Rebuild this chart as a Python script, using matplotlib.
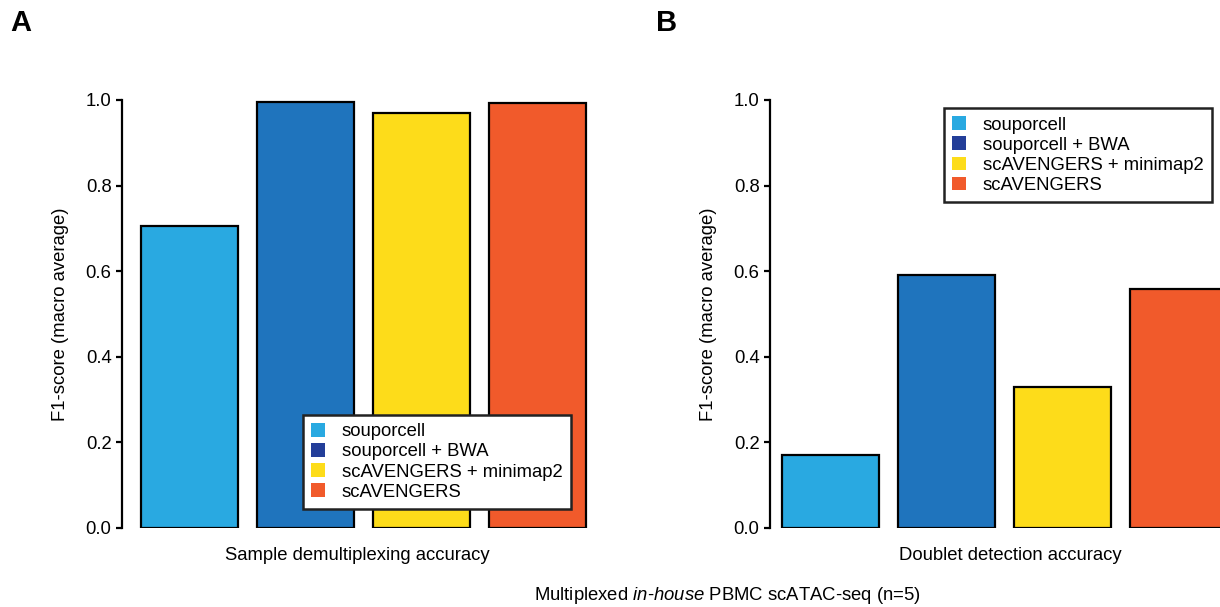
import matplotlib
matplotlib.use("Agg")
import matplotlib.pyplot as plt
from matplotlib.patches import Patch

plt.rcParams['font.family'] = ['Liberation Sans', 'DejaVu Sans']
plt.rcParams['mathtext.fontset'] = 'custom'
plt.rcParams['mathtext.it'] = 'Liberation Sans:italic'
plt.rcParams['mathtext.rm'] = 'Liberation Sans'

# data
methods = ['souporcell', 'souporcell + BWA', 'scAVENGERS + minimap2', 'scAVENGERS']
demux_f1 = [0.705, 0.995, 0.970, 0.993]
doublet_f1 = [0.171, 0.591, 0.329, 0.558]
bar_colors = ['#29A9E1', '#1F74BD', '#FDDC1A', '#F15A2B']
legend_colors = ['#29A9E1', '#233E99', '#FDDC1A', '#F15A2B']
yticks = [0.0, 0.2, 0.4, 0.6, 0.8, 1.0]

W, H = 1220, 607
FS = 13.3
fig = plt.figure(figsize=(W/100, H/100), dpi=100)

def px_axes(x0, x1, y_top, y_bot):
    return fig.add_axes([x0/W, (H-y_bot)/H, (x1-x0)/W, (y_bot-y_top)/H])

step = 116.0

def draw_panel(ax, vals, x0px, x1px, gap):
    pos = range(len(vals))
    left = -0.418 - gap/step
    ax.bar(pos, vals, width=97/step, color=bar_colors, edgecolor='black', linewidth=1.6)
    ax.set_xlim(left, left + (x1px - x0px)/step)
    ax.set_ylim(0, 1)
    for s in ['top', 'right', 'bottom']:
        ax.spines[s].set_visible(False)
    ax.spines['left'].set_linewidth(1.6)
    ax.set_xticks([])
    ax.set_yticks(yticks)
    ax.set_yticklabels(['%.1f' % t for t in yticks], fontsize=FS)
    ax.tick_params(axis='y', length=4.5, width=1.6, pad=3)
    ax.set_ylabel('F1-score (macro average)', fontsize=FS, labelpad=12)
    return [Patch(facecolor=c, edgecolor='none') for c in legend_colors]

def add_legend(ax, handles, loc, anchor):
    leg = ax.legend(handles, methods, loc=loc, bbox_to_anchor=anchor,
                    fontsize=FS, frameon=True, fancybox=False, framealpha=1,
                    handlelength=0.75, handleheight=0.75, handletextpad=0.9,
                    labelspacing=0.16, borderpad=0.45, borderaxespad=0)
    leg.get_frame().set_edgecolor('#222222')
    leg.get_frame().set_linewidth(1.8)
    return leg

axA = px_axes(122, 600, 100, 528)
hA = draw_panel(axA, demux_f1, 122, 600, 19)
add_legend(axA, hA, 'lower left', ((303-122)/478, (528-509)/428))

axB = px_axes(770, 1220, 100, 528)
hB = draw_panel(axB, doublet_f1, 770, 1220, 12)
add_legend(axB, hB, 'upper left', ((944-770)/450, (528-108)/428))

fig.text(357/W, 1-556/H, 'Sample demultiplexing accuracy', ha='center', va='center', fontsize=FS)
fig.text(1010/W, 1-556/H, 'Doublet detection accuracy', ha='center', va='center', fontsize=FS)
fig.text(727/W, 1-595/H, r'Multiplexed $\mathit{in}$-$\mathit{house}$ PBMC scATAC-seq (n=5)',
         ha='center', va='center', fontsize=FS)

fig.text(10/W, 1-23/H, 'A', fontsize=21, fontweight='bold', va='center', ha='left')
fig.text(656/W, 1-23/H, 'B', fontsize=21, fontweight='bold', va='center', ha='left')

fig.savefig('out.png', dpi=100)
